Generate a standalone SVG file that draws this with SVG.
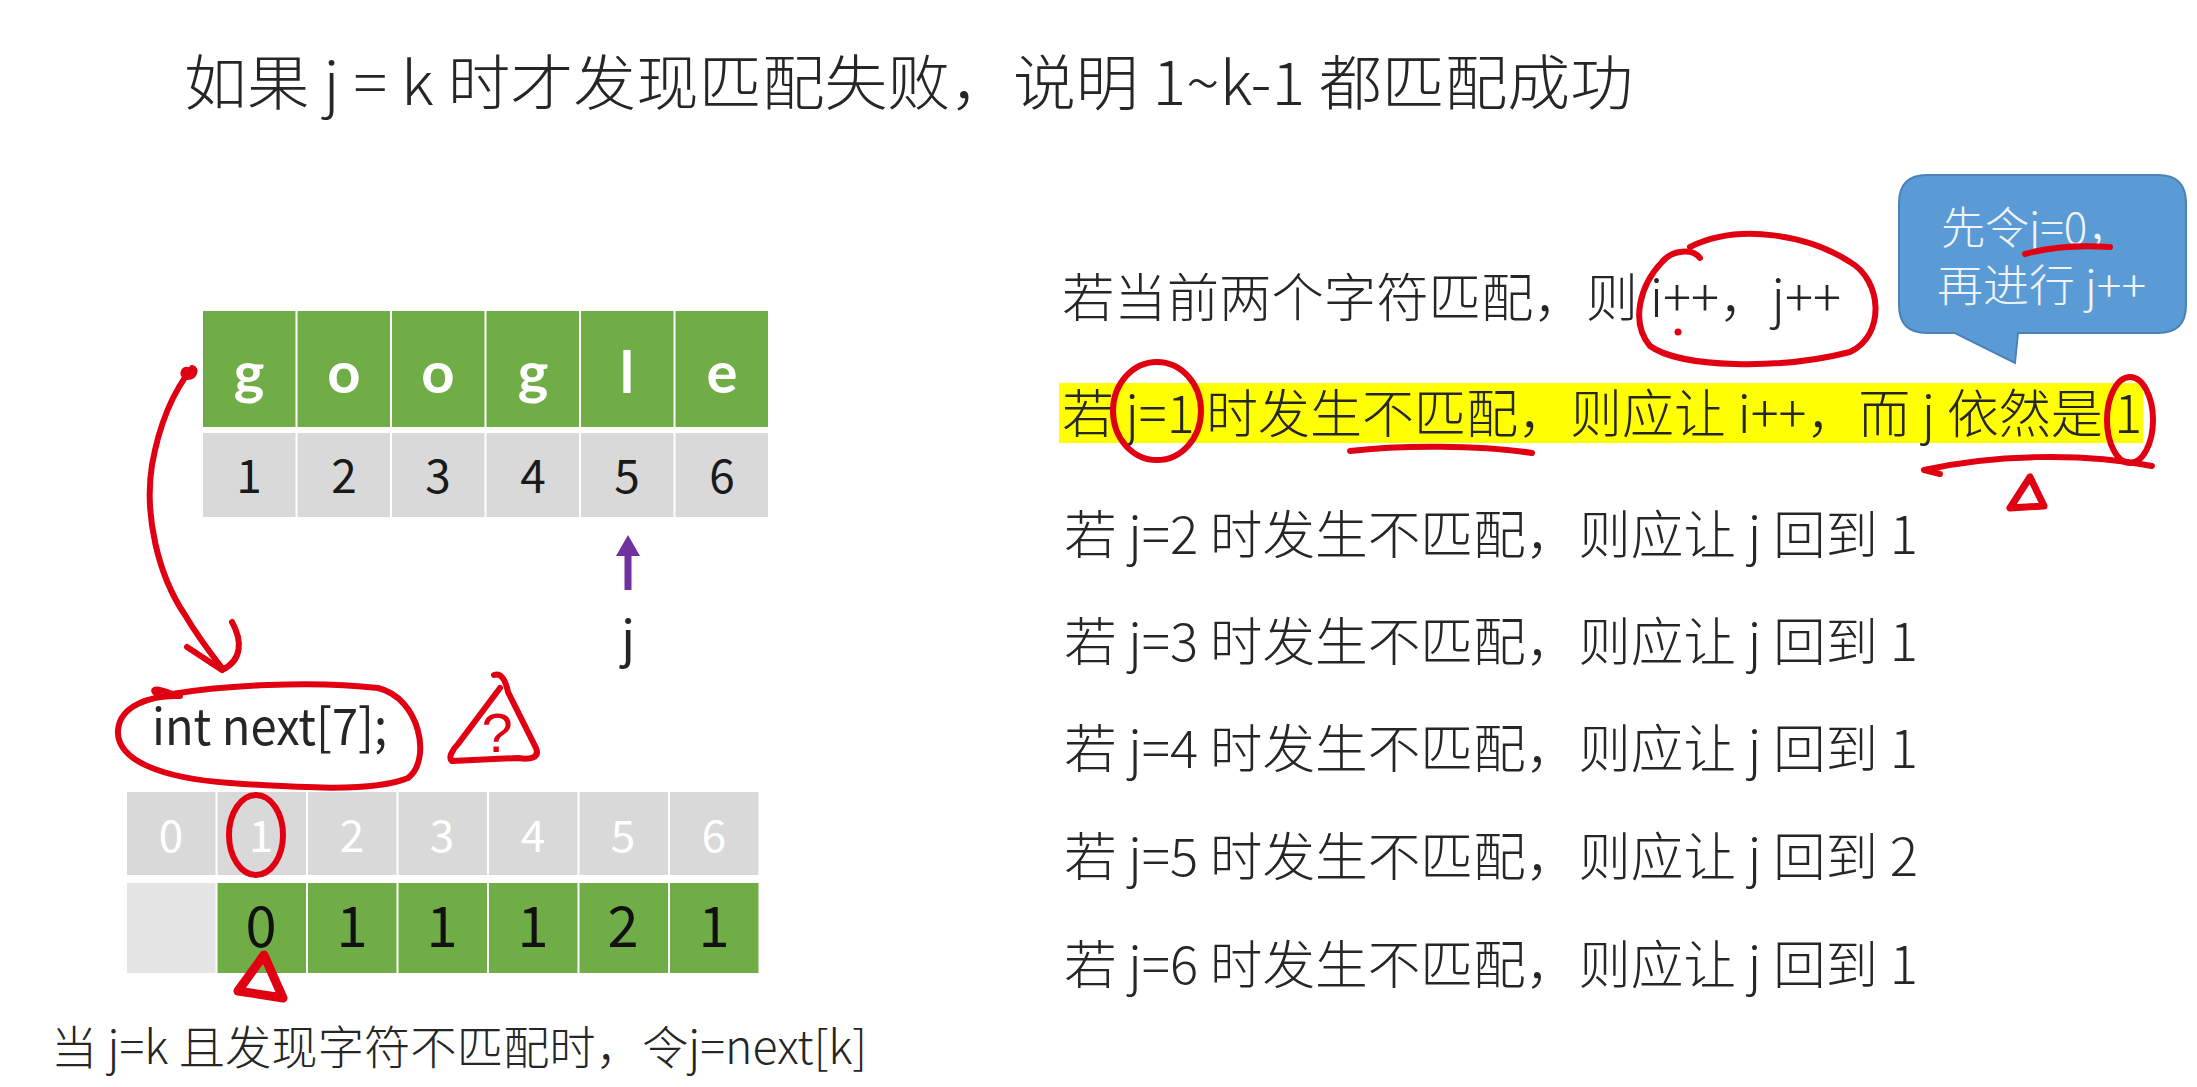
<svg xmlns="http://www.w3.org/2000/svg" width="2197" height="1087" viewBox="0 0 2197 1087">
<defs>
<style>
.t{font-family:"Noto Sans CJK SC","Noto Sans",sans-serif;font-weight:300;fill:#262626;}
.g{fill:#70AD47;}
.gr{fill:#D9D9D9;}
.lg{fill:#E4E4E4;}
.red{fill:none;stroke:#E00012;stroke-width:6;stroke-linecap:round;stroke-linejoin:round;}
.letter{font-family:Lato,"Open Sans",sans-serif;font-weight:700;font-size:58px;fill:#ffffff;text-anchor:middle;}
.num{font-family:"Noto Sans CJK SC",sans-serif;font-weight:400;font-size:46px;fill:#1a1a1a;text-anchor:middle;}
.wnum{font-family:"Noto Sans CJK SC",sans-serif;font-size:44px;fill:#ffffff;text-anchor:middle;}
.bnum{font-family:"Noto Sans CJK SC",sans-serif;font-weight:400;font-size:56px;fill:#111111;text-anchor:middle;}
.line{font-size:52px;}
</style>
</defs>
<rect width="2197" height="1087" fill="#ffffff"/>

<g id="title">
<text class="t" x="184" y="105" font-size="60" textLength="1449" lengthAdjust="spacingAndGlyphs">如果 j = k 时才发现匹配失败，说明 1~k-1 都匹配成功</text>
</g>

<g id="google-table">
<rect class="g" x="203" y="311" width="92.5" height="116"/>
<rect class="g" x="297.5" y="311" width="92.5" height="116"/>
<rect class="g" x="392" y="311" width="92.5" height="116"/>
<rect class="g" x="486.5" y="311" width="92.5" height="116"/>
<rect class="g" x="581" y="311" width="92.5" height="116"/>
<rect class="g" x="675.5" y="311" width="92.5" height="116"/>
<rect class="gr" x="203" y="433" width="92.5" height="84"/>
<rect class="gr" x="297.5" y="433" width="92.5" height="84"/>
<rect class="gr" x="392" y="433" width="92.5" height="84"/>
<rect class="gr" x="486.5" y="433" width="92.5" height="84"/>
<rect class="gr" x="581" y="433" width="92.5" height="84"/>
<rect class="gr" x="675.5" y="433" width="92.5" height="84"/>
<text class="letter" x="249" y="393">g</text>
<text class="letter" x="344" y="393">o</text>
<text class="letter" x="438" y="393">o</text>
<text class="letter" x="533" y="393">g</text>
<text class="letter" x="627" y="393">l</text>
<text class="letter" x="722" y="393">e</text>
<text class="num" x="249" y="493">1</text>
<text class="num" x="344" y="493">2</text>
<text class="num" x="438" y="493">3</text>
<text class="num" x="533" y="493">4</text>
<text class="num" x="627" y="493">5</text>
<text class="num" x="722" y="493">6</text>
</g>

<g id="j-pointer">
<text class="t" x="628" y="657" font-size="50" text-anchor="middle" style="font-weight:400">j</text>
</g>

<g id="int-next">
<text class="t" x="152" y="745" font-size="50" textLength="235" lengthAdjust="spacingAndGlyphs" style="font-weight:400">int next[7];</text>
</g>

<g id="next-table">
<rect class="gr" x="127" y="792" width="88.5" height="83"/>
<rect class="gr" x="217.5" y="792" width="88.5" height="83"/>
<rect class="gr" x="308" y="792" width="88.5" height="83"/>
<rect class="gr" x="398.5" y="792" width="88.5" height="83"/>
<rect class="gr" x="489" y="792" width="88.5" height="83"/>
<rect class="gr" x="579.5" y="792" width="88.5" height="83"/>
<rect class="gr" x="670" y="792" width="88.5" height="83"/>
<rect class="lg" x="127" y="883" width="88.5" height="90"/>
<rect class="g" x="217.5" y="883" width="88.5" height="90"/>
<rect class="g" x="308" y="883" width="88.5" height="90"/>
<rect class="g" x="398.5" y="883" width="88.5" height="90"/>
<rect class="g" x="489" y="883" width="88.5" height="90"/>
<rect class="g" x="579.5" y="883" width="88.5" height="90"/>
<rect class="g" x="670" y="883" width="88.5" height="90"/>
<text class="wnum" x="171" y="852">0</text>
<text class="wnum" x="261" y="852">1</text>
<text class="wnum" x="352" y="852">2</text>
<text class="wnum" x="442" y="852">3</text>
<text class="wnum" x="533" y="852">4</text>
<text class="wnum" x="623" y="852">5</text>
<text class="wnum" x="714" y="852">6</text>
<text class="bnum" x="261" y="947">0</text>
<text class="bnum" x="352" y="947">1</text>
<text class="bnum" x="442" y="947">1</text>
<text class="bnum" x="533" y="947">1</text>
<text class="bnum" x="623" y="947">2</text>
<text class="bnum" x="714" y="947">1</text>
</g>

<g id="bottom-note">
<text class="t" x="51" y="1064" font-size="46" textLength="816" lengthAdjust="spacingAndGlyphs">当 j=k 且发现字符不匹配时，令j=next[k]</text>
</g>

<g id="rules">
<rect x="1059" y="383" width="1084" height="60" fill="#FFFF00"/>
<text class="t line" x="1062" y="317" textLength="779" lengthAdjust="spacingAndGlyphs">若当前两个字符匹配，则 i++，j++</text>
<text class="t line" x="1062" y="433" textLength="1080" lengthAdjust="spacingAndGlyphs">若 j=1 时发生不匹配，则应让 i++，而 j 依然是 1</text>
<text class="t line" x="1064" y="554" textLength="854" lengthAdjust="spacingAndGlyphs">若 j=2 时发生不匹配，则应让 j 回到 1</text>
<text class="t line" x="1064" y="661" textLength="854" lengthAdjust="spacingAndGlyphs">若 j=3 时发生不匹配，则应让 j 回到 1</text>
<text class="t line" x="1064" y="768" textLength="854" lengthAdjust="spacingAndGlyphs">若 j=4 时发生不匹配，则应让 j 回到 1</text>
<text class="t line" x="1064" y="876" textLength="854" lengthAdjust="spacingAndGlyphs">若 j=5 时发生不匹配，则应让 j 回到 2</text>
<text class="t line" x="1064" y="984" textLength="854" lengthAdjust="spacingAndGlyphs">若 j=6 时发生不匹配，则应让 j 回到 1</text>
</g>

<g id="callout">
<path d="M1927,175 H2158 Q2186,175 2186,203 V305 Q2186,333 2158,333 H2018 L2015,363 L1955,333 H1927 Q1899,333 1899,305 V203 Q1899,175 1927,175 Z" fill="#5B9BD5" stroke="#4A82B8" stroke-width="2"/>
<text class="t" x="1941" y="244" font-size="44" style="fill:#F0F4FA">先令j=0，</text>
<text class="t" x="1937" y="302" font-size="44" textLength="209" lengthAdjust="spacingAndGlyphs" style="fill:#F0F4FA">再进行 j++</text>
</g>

<g id="connectors">
<path d="M628,590 V554" stroke="#7030A0" stroke-width="7" fill="none"/>
<path d="M628,535 L640,556 L616,556 Z" fill="#7030A0"/>
<path class="red" d="M188,370 C183,368 181,377 188,377 C194,377 197,369 192,368 C176,388 160,420 152,465 C144,515 158,575 185,615 C200,640 212,655 222,668"/>
<path class="red" d="M187,647 L222,670 M232,622 C242,640 243,660 222,670"/>
</g>

<g id="annotations">
<path class="red" d="M160,696 C150,690 152,686 172,694 C220,686 310,680 378,688 C420,698 432,760 408,778 C375,792 300,788 230,783 C160,778 116,760 118,730 C120,706 150,695 180,696"/>
<path class="red" d="M494,675 C502,672 506,682 508,692 L536,748 C540,758 530,760 518,758 L452,761 C448,758 452,750 458,744 L500,688"/>
<text x="497" y="752" font-family="Liberation Sans, sans-serif" font-size="56" fill="#E00012" text-anchor="middle">?</text>
<ellipse class="red" cx="256" cy="835" rx="27" ry="40"/>
<path class="red" d="M264,955 L238,991 L283,998 Z" style="stroke-width:9"/>
<path class="red" d="M1700,258 C1692,248 1672,250 1662,262 C1640,285 1630,322 1650,346 C1680,368 1780,370 1850,352 C1886,335 1882,280 1850,262 C1810,236 1740,222 1690,247"/>
<circle cx="1678" cy="332" r="3.5" fill="#E00012"/>
<ellipse class="red" cx="1157" cy="411" rx="44" ry="49"/>
<path class="red" d="M1350,451 C1400,445 1480,445 1532,453"/>
<ellipse class="red" cx="2130" cy="420" rx="23" ry="43"/>
<path class="red" d="M2152,466 C2080,452 1990,455 1924,470 L1940,474"/>
<path class="red" d="M2030,477 L2010,508 L2044,506 Z" style="stroke-width:7"/>
<path class="red" d="M2025,254 C2050,247 2080,245 2110,247"/>
</g>
</svg>
